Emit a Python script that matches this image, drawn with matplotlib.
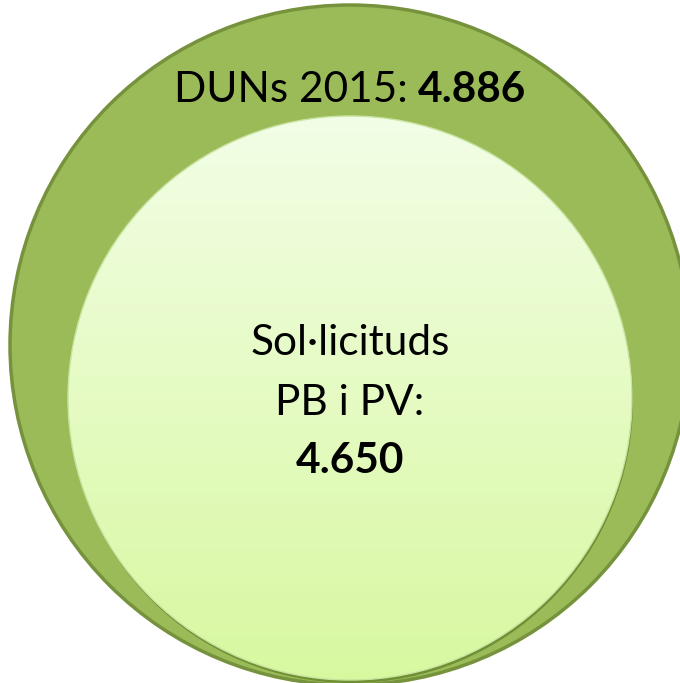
import numpy as np
import matplotlib.pyplot as plt
from matplotlib.patches import Circle

# data
labels = ['DUNs 2015', 'Sol·licituds\nPB i PV']
values = ['4.886', '4.650']

# circle geometry in pixels (outer, inner)
centres = [(350, 345), (350, 398)]
radii = [340, 282]

W, H = 680, 683
fig = plt.figure(figsize=(W / 100, H / 100), dpi=100)
ax = fig.add_axes([0, 0, 1, 1])
ax.set_xlim(0, W)
ax.set_ylim(H, 0)
ax.set_aspect('equal')
ax.axis('off')

# outer circle
outer = Circle(centres[0], radii[0], facecolor='#9bbb59', edgecolor='#76923c', lw=2.5, zorder=1)
ax.add_patch(outer)

# shadow of inner circle
shadow = Circle((centres[1][0] + 1, centres[1][1] + 3), radii[1], facecolor='#6f8f33',
                edgecolor='none', zorder=2)
ax.add_patch(shadow)

# inner circle with vertical gradient
cx, cy = centres[1]
r = radii[1]
top = np.array([242, 254, 230]) / 255
bot = np.array([216, 248, 160]) / 255
t = np.linspace(0, 1, 256)[:, None, None]
grad = top * (1 - t) + bot * t
grad = np.repeat(grad, 2, axis=1)
im = ax.imshow(grad, extent=[cx - r, cx + r, cy + r, cy - r], aspect='auto', zorder=3,
               interpolation='bilinear')
clip = Circle((cx, cy), r, transform=ax.transData, facecolor='none')
im.set_clip_path(clip)
ax.add_patch(Circle((cx, cy), r, facecolor='none', edgecolor='#c9e3a0', lw=1, zorder=4))

font = 'Lato'
fs = 30.5

# top label: normal text + bold value, centred together
t1 = ax.text(0, 102, labels[0] + ': ', va='baseline', fontsize=fs, family=font, zorder=5)
t2 = ax.text(0, 102, values[0], va='baseline', fontsize=fs, family=font, weight='bold', zorder=5)
fig.canvas.draw()
rend = fig.canvas.get_renderer()
w1 = t1.get_window_extent(rend).width
w2 = t2.get_window_extent(rend).width
x0 = 350 - (w1 + w2) / 2
t1.set_x(x0)
t2.set_x(x0 + w1)

lines = labels[1].split('\n')
ax.text(350, 355, lines[0], ha='center', va='baseline', fontsize=fs, family=font, zorder=5)
ax.text(350, 415, lines[1] + ':', ha='center', va='baseline', fontsize=fs, family=font, zorder=5)
ax.text(350, 473, values[1], ha='center', va='baseline', fontsize=fs, family=font,
        weight='bold', zorder=5)

fig.savefig('out.png', dpi=100)
